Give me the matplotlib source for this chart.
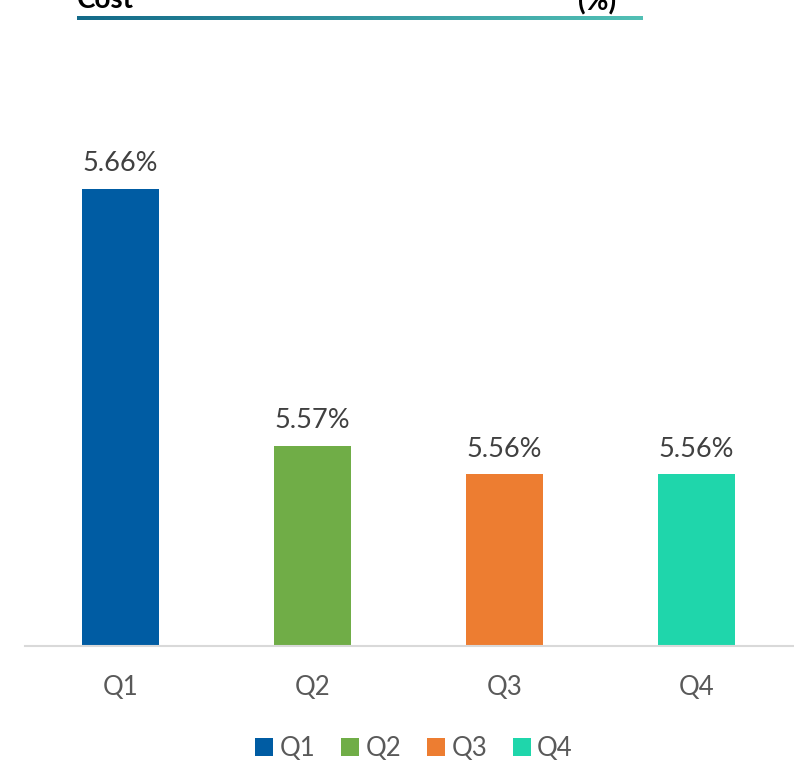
import numpy as np
import matplotlib.pyplot as plt
from matplotlib.colors import LinearSegmentedColormap
from matplotlib.patches import Patch

quarters = ["Q1", "Q2", "Q3", "Q4"]
rates = [5.66, 5.57, 5.56, 5.56]  # percent
colors = ["#005ca3", "#70ad47", "#ed7d31", "#1fd6ab"]

plt.rcParams['font.family'] = ['Lato', 'DejaVu Sans']

W, H = 794, 765
fig = plt.figure(figsize=(W / 100, H / 100), dpi=100)

# main bar axes
ax = fig.add_axes([24.5 / W, 1 - 646 / H, 768 / W, 586 / H])
x = np.arange(len(quarters))
bars = ax.bar(x, rates, width=0.4, color=colors, bottom=0)
ax.set_ylim(5.5, 5.705)
ax.set_xlim(-0.5, 3.5)

for xi, v in zip(x, rates):
    ax.annotate(f"{v:.2f}%", (xi, v), xytext=(0, 9), textcoords="offset points",
                ha="center", va="bottom", fontsize=19.5, color="#404040")

for s in ["top", "right", "left"]:
    ax.spines[s].set_visible(False)
ax.spines["bottom"].set_color("#d9d9d9")
ax.spines["bottom"].set_linewidth(1.5)
ax.set_yticks([])
ax.set_xticks(x)
ax.set_xticklabels(quarters, fontsize=18.5, color="#595959")
ax.tick_params(axis="x", length=0, pad=21)

# header text (cut off at the top)
fig.text(77 / W, 1 - 8 / H, "Cost", fontsize=20, fontweight="bold",
         color="black", ha="left", va="baseline")
fig.text(578 / W, 1 - 10 / H, "(%)", fontsize=20, fontweight="bold",
         color="black", ha="left", va="baseline")

# gradient underline
gax = fig.add_axes([77 / W, 1 - 20 / H, 566 / W, 4 / H])
cmap = LinearSegmentedColormap.from_list("hdr", ["#136a89", "#52c0b5"])
gax.imshow(np.linspace(0, 1, 256)[None, :], aspect="auto", cmap=cmap)
gax.axis("off")

# legend
handles = [Patch(facecolor=c, edgecolor="none") for c in colors]
fig.legend(handles, quarters, loc="center", bbox_to_anchor=(414 / W, 1 - 748 / H),
           ncol=4, frameon=False, fontsize=18.5, labelcolor="#595959",
           handlelength=0.7, handleheight=0.7, handletextpad=0.25,
           columnspacing=1.0)

fig.savefig("out.png", dpi=100)
